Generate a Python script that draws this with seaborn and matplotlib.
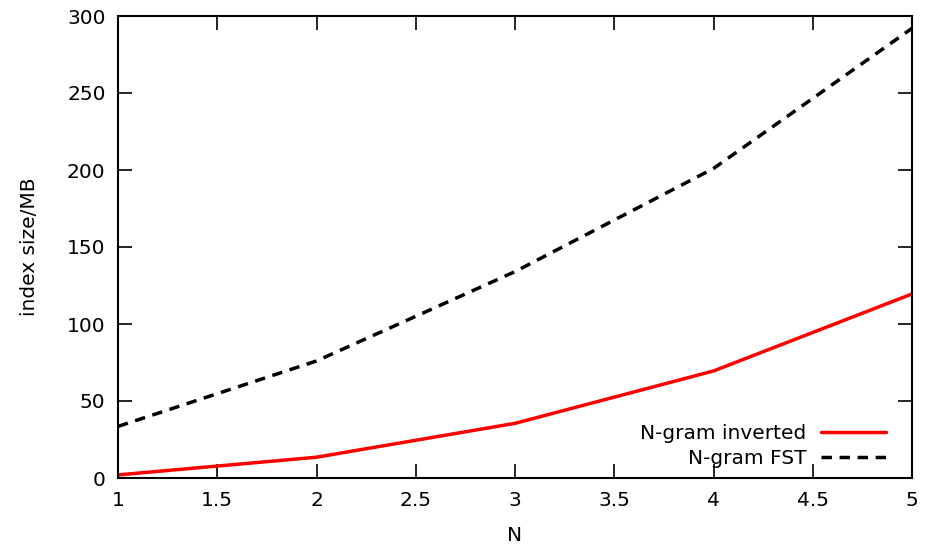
import matplotlib
matplotlib.use("Agg")
import matplotlib.pyplot as plt
import seaborn as sns
import pandas as pd

n_values = [1, 2, 3, 4, 5]
inverted_mb = [2, 13.5, 35.5, 69.5, 119.5]
fst_mb = [33.5, 76, 134, 201, 292]
x_ticks = [1, 1.5, 2, 2.5, 3, 3.5, 4, 4.5, 5]
y_ticks = [0, 50, 100, 150, 200, 250, 300]

sns.set_theme(style="ticks")
plt.rcParams['font.family'] = ['DejaVu Sans']
plt.rcParams['text.color'] = 'black'
plt.rcParams['axes.labelcolor'] = 'black'

fig = plt.figure(figsize=(9.38, 5.58), dpi=100)
ax = fig.add_axes([118/938, 1-478/558, (912-118)/938, (478-16)/558])

df_inv = pd.DataFrame({"N": n_values, "size": inverted_mb})
df_fst = pd.DataFrame({"N": n_values, "size": fst_mb})

sns.lineplot(data=df_inv, x="N", y="size", ax=ax, color="#ff0000", linewidth=2.5,
             label="N-gram inverted")
sns.lineplot(data=df_fst, x="N", y="size", ax=ax, color="black", linewidth=2.5,
             dashes=False, label="N-gram FST")
ax.lines[1].set_linestyle((0, (3, 2.2)))

fs = 14.5
ax.set_xlim(1, 5)
ax.set_ylim(0, 300)
ax.set_xticks(x_ticks)
ax.set_xticklabels(["1", "1.5", "2", "2.5", "3", "3.5", "4", "4.5", "5"])
ax.set_yticks(y_ticks)
ax.tick_params(direction="in", length=10, width=1.2, top=True, right=True,
               labelsize=fs, colors="black", pad=9)
for s in ax.spines.values():
    s.set_linewidth(1.5)
    s.set_color("black")
    s.set_visible(True)
ax.set_xlabel("N", fontsize=fs, labelpad=12)
ax.set_ylabel("index size/MB", fontsize=fs, labelpad=20)

leg = ax.legend(loc="lower right", frameon=False, markerfirst=False, fontsize=fs,
                handlelength=3.2, labelspacing=0.3, borderaxespad=0.5, handletextpad=0.75,
                bbox_to_anchor=(0.99, -0.018))
for t in leg.get_texts():
    t.set_ha("right")
    t.set_color("black")
leg._legend_box.align = "right"

fig.savefig("out.png", dpi=100)
